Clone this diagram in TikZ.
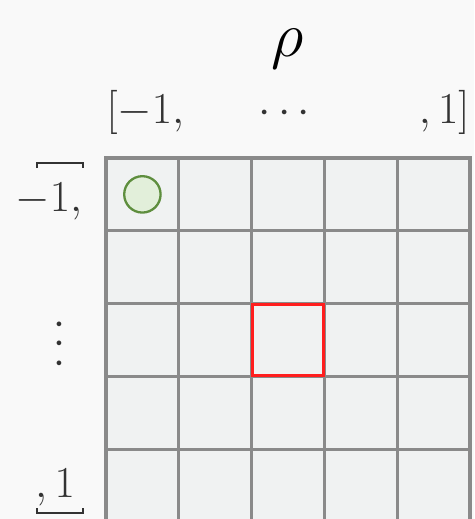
\documentclass[tikz,border=0pt]{standalone}
\usepackage{amsmath, amssymb}
\usepackage{tikz}
\usetikzlibrary{positioning}

\definecolor{paper}{HTML}{F9F9F9}
\definecolor{cellfill}{HTML}{F0F2F2}
\definecolor{gridgray}{HTML}{8A8A8A}
\definecolor{labgray}{HTML}{333333}
\definecolor{leafgreen}{HTML}{5E8E3E}
\definecolor{leaffill}{HTML}{E2EFDA}
\definecolor{focusred}{HTML}{FF1E1E}

\begin{document}
\begin{tikzpicture}[
    cellbox/.style={draw=gridgray, line width=1.2pt, minimum size=1cm, inner sep=0pt, outer sep=0pt},
    idxlabel/.style={text=labgray, inner sep=0pt, font=\fontsize{17}{20}\selectfont},
    brk/.style={labgray, line width=0.9pt}
  ]
  % 背景
  \fill[paper] (-1.456,2.170) rectangle (5.055,-4.959);
  \useasboundingbox (-1.456,2.170) rectangle (5.055,-4.959);
  \clip (-1.456,2.170) rectangle (5.055,-4.959);

  % 格子
  \fill[cellfill] (0,0) rectangle (5,-5);
  \foreach \r in {0,...,4} {
    \foreach \c in {0,...,4} {
      \node[cellbox] (c\r\c) at (\c+0.5,-\r-0.5) {};
    }
  }

  % 印のついたセル
  \node[circle, draw=leafgreen, fill=leaffill, line width=0.9pt, minimum size=0.5cm, inner sep=0pt] (start) at (c00) {};
  \node[draw=focusred, line width=1pt, minimum size=0.98cm, inner sep=0pt] (focus) at (c22) {};

  % 上のラベル
  \node[anchor=base, font=\fontsize{38}{44}\selectfont] (rho) at (2.5,1.40) {$\rho$};
  \node[idxlabel, anchor=base west] (colfirst) at (0,0.47) {$[-1,$};
  \node[idxlabel, anchor=base] (coldots) at (2.5,0.47) {$\cdots$};
  \node[idxlabel, anchor=base east] (collast) at (5,0.47) {$,1]$};

  % 左のラベル
  \node[idxlabel, anchor=base east] (rowfirst) at (-0.32,-0.74) {$-1,$};
  \node[idxlabel, rotate=90] (rowdots) at (-0.62,-2.5) {$\cdots$};
  \node[idxlabel, anchor=base east] (rowlast) at (-0.42,-4.66) {$,1$};
  \draw[brk] (-0.95,-0.14) |- (-0.32,-0.07) -- (-0.32,-0.14);
  \draw[brk] (-0.95,-4.81) |- (-0.32,-4.88) -- (-0.32,-4.81);
\end{tikzpicture}
\end{document}
